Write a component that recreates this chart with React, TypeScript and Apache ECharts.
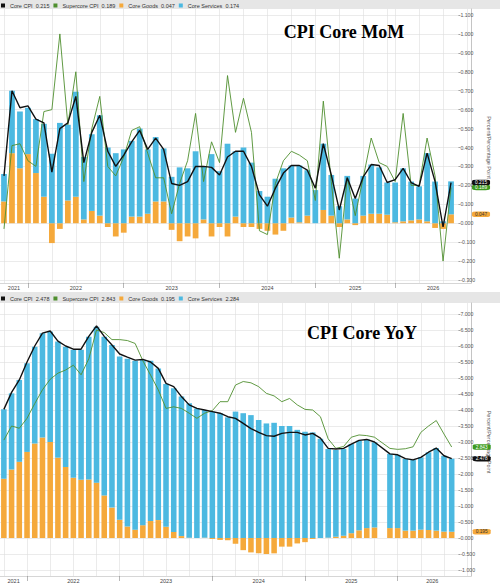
import React, { useEffect, useRef } from 'react';
import * as echarts from 'echarts';

// ---------- DATA ----------
// Monthly categories (YoY panel keeps an empty slot for the missing Oct 2025 print)
const categories = [
  'Sep 2021', 'Oct 2021', 'Nov 2021', 'Dec 2021',
  'Jan 2022', 'Feb 2022', 'Mar 2022', 'Apr 2022', 'May 2022', 'Jun 2022', 'Jul 2022', 'Aug 2022', 'Sep 2022', 'Oct 2022', 'Nov 2022', 'Dec 2022',
  'Jan 2023', 'Feb 2023', 'Mar 2023', 'Apr 2023', 'May 2023', 'Jun 2023', 'Jul 2023', 'Aug 2023', 'Sep 2023', 'Oct 2023', 'Nov 2023', 'Dec 2023',
  'Jan 2024', 'Feb 2024', 'Mar 2024', 'Apr 2024', 'May 2024', 'Jun 2024', 'Jul 2024', 'Aug 2024', 'Sep 2024', 'Oct 2024', 'Nov 2024', 'Dec 2024',
  'Jan 2025', 'Feb 2025', 'Mar 2025', 'Apr 2025', 'May 2025', 'Jun 2025', 'Jul 2025', 'Aug 2025', 'Sep 2025', 'Oct 2025', 'Nov 2025', 'Dec 2025',
  'Jan 2026', 'Feb 2026', 'Mar 2026', 'Apr 2026', 'May 2026', 'Jun 2026', 'Jul 2026', 'Aug 2026', 'Sep 2026',
];
// The MoM panel has no points at all for these months (they are skipped, not left blank)
const momMissingMonths = ['Oct 2025', 'Nov 2025'];
const momCategories = categories.filter((c) => momMissingMonths.indexOf(c) < 0);

// x-axis year labels and the month under which each one sits
const yearLabels = ['2021', '2022', '2023', '2024', '2025', '2026'];
const momYearLabelMonths = ['Oct 2021', 'Jun 2022', 'Jun 2023', 'Jun 2024', 'May 2025', 'May 2026'];
const yoyYearLabelMonths = ['Oct 2021', 'Jun 2022', 'Jun 2023', 'Jun 2024', 'Jun 2025', 'May 2026'];

// Month-over-month (%), one value per momCategories entry
const coreMoM = [
  0.25, 0.70, 0.61, 0.62, 0.55, 0.53, 0.27, 0.50, 0.53, 0.67,
  0.32, 0.48, 0.57, 0.38, 0.30, 0.36, 0.43, 0.49, 0.39, 0.45,
  0.39, 0.21, 0.20, 0.22, 0.30, 0.30, 0.295, 0.255, 0.35, 0.38,
  0.38, 0.30, 0.15, 0.09, 0.185, 0.265, 0.305, 0.305, 0.28, 0.185,
  0.42, 0.255, 0.07, 0.24, 0.13, 0.245, 0.31, 0.305, 0.215,
  0.23, 0.29, 0.215, 0.195, 0.37, 0.22, -0.02, 0.215,
];
const supercoreMoM = [
  -0.03, 0.41, 0.42, 0.33, 0.30, 0.59, 0.60, 1.00, 0.52, 0.80,
  0.22, 0.50, 0.67, 0.30, 0.25, 0.35, 0.49, 0.51, 0.37, 0.24,
  0.24, 0.05, 0.21, 0.33, 0.58, 0.22, 0.43, 0.32, 0.78, 0.48,
  0.66, 0.48, -0.04, -0.06, 0.21, 0.33, 0.38, 0.36, 0.33, 0.12,
  0.645, 0.22, -0.185, 0.24, 0.04, 0.24, 0.45, 0.32, 0.30,
  0.22, 0.58, 0.20, 0.20, 0.45, 0.25, -0.20, 0.189,
];
const goodsMoM = [
  0.115, 0.37, 0.29, 0.365, 0.265, 0.14, -0.105, -0.03, 0.12, 0.14,
  0.02, 0.065, 0.04, -0.02, -0.07, -0.05, 0.035, 0.035, 0.05, 0.115,
  0.115, -0.035, -0.095, -0.07, -0.08, 0.02, -0.07, -0.02, -0.07, 0.035,
  -0.02, -0.02, -0.03, -0.04, -0.06, -0.04, 0.03, 0.005, 0.04, 0.0,
  0.07, 0.04, -0.02, 0.02, -0.01, 0.04, 0.05, 0.05, 0.045,
  0.005, 0.01, 0.015, 0.02, 0.01, -0.025, -0.03, 0.047,
];
const servicesMoM = [
  0.145, 0.33, 0.30, 0.245, 0.285, 0.385, 0.367, 0.53, 0.40, 0.555,
  0.33, 0.405, 0.53, 0.40, 0.37, 0.39, 0.40, 0.465, 0.34, 0.34,
  0.28, 0.245, 0.295, 0.29, 0.38, 0.28, 0.365, 0.275, 0.42, 0.345,
  0.40, 0.32, 0.17, 0.14, 0.235, 0.29, 0.275, 0.30, 0.24, 0.175,
  0.35, 0.215, 0.09, 0.23, 0.13, 0.21, 0.26, 0.245, 0.17,
  0.21, 0.28, 0.205, 0.175, 0.36, 0.22, 0.01, 0.174,
];

// Year-over-year (%), one value per categories entry (null = no print)
const coreYoY = [
  4.02, 4.55, 4.94, 5.5, 6.0, 6.4, 6.47, 6.15, 6.0, 5.9,
  5.9, 6.3, 6.63, 6.3, 6.03, 5.75, 5.65, 5.56, 5.58, 5.5,
  5.3, 4.83, 4.73, 4.42, 4.16, 4.05, 4.0, 3.95, 3.9, 3.79,
  3.74, 3.58, 3.42, 3.3, 3.2, 3.18, 3.27, 3.3, 3.3, 3.22,
  3.27, 3.12, 2.8, 2.78, 2.8, 2.93, 3.05, 3.08, 3.0, null,
  2.63, 2.6, 2.48, 2.44, 2.52, 2.68, 2.81, 2.57, 2.478,
];
const supercoreYoY = [
  3.06, 3.5, 3.43, 3.74, 4.2, 4.63, 4.96, 5.15, 5.25, 5.4,
  5.1, 5.6, 6.5, 6.42, 6.2, 6.2, 6.17, 6.08, 5.54, 5.09,
  4.63, 4.05, 4.1, 4.05, 3.9, 3.74, 3.9, 3.98, 4.26, 4.26,
  4.78, 4.89, 4.85, 4.73, 4.52, 4.44, 4.26, 4.36, 4.16, 4.02,
  4.0, 3.79, 3.1, 2.8, 2.86, 3.15, 3.22, 3.2, 3.15, null,
  2.8, 2.77, 2.79, 2.85, 3.3, 3.5, 3.67, 3.25, 2.843,
];
const goodsYoY = [
  1.85, 2.14, 2.38, 2.69, 2.95, 3.14, 3.0, 2.51, 2.22, 1.88,
  1.82, 1.83, 1.73, 1.33, 0.95, 0.57, 0.36, 0.26, 0.40, 0.53,
  0.56, 0.35, 0.19, 0.06, 0.01, 0.0, 0.01, -0.03, -0.06, -0.07,
  -0.18, -0.38, -0.45, -0.48, -0.5, -0.48, -0.27, -0.27, -0.17, -0.13,
  -0.03, 0.0, 0.01, 0.04, 0.07, 0.15, 0.24, 0.31, 0.33, null,
  0.31, 0.31, 0.23, 0.23, 0.26, 0.25, 0.23, 0.2, 0.195,
];
const servicesYoY = [
  2.17, 2.38, 2.56, 2.77, 3.03, 3.26, 3.45, 3.63, 3.76, 4.0,
  4.06, 4.46, 4.87, 4.96, 5.08, 5.1, 5.24, 5.28, 5.16, 5.01,
  4.74, 4.46, 4.49, 4.36, 4.2, 4.05, 3.99, 3.95, 3.9, 3.77,
  3.95, 3.9, 3.84, 3.69, 3.58, 3.6, 3.5, 3.5, 3.38, 3.32,
  3.3, 3.1, 2.77, 2.71, 2.71, 2.79, 2.8, 2.77, 2.66, null,
  2.32, 2.29, 2.24, 2.21, 2.26, 2.43, 2.58, 2.37, 2.284,
];

// ---------- STYLE / LAYOUT ----------
const FONT = '"Liberation Sans", Arial, sans-serif';
const C_CORE = '#111111';
const C_SUPER = '#4f8f2f';
const C_SUPER_TAG = '#3d9a1e';
const C_GOODS = '#f5a93b';
const C_SERV = '#4cb9e1';
const GRID_COLOR = '#dedede';
const GRID_LEFT = 0;
const GRID_RIGHT = 29;
const TAG_DX = 30;

type Arr = (number | null)[];
type Panel = {
  title: string; titleX: number; titleY: number;
  bandY: number; bandH: number; legendTop: number;
  dataTop: number; dataBottom: number; labelTop: number; labelBottom: number;
  yMin: number; yMax: number; yInterval: number;
  cats: string[]; yearAt: string[]; yearShift: number[];
  core: Arr; sup: Arr; goods: Arr; serv: Arr;
};

const lastIndex = (arr: Arr) => {
  for (let i = arr.length - 1; i >= 0; i--) if (arr[i] != null) return i;
  return 0;
};
const fmt3 = (v: number) => (Math.abs(v) < 1e-9 ? '0.000' : v.toFixed(3));

function tag(arr: Arr, bg: string, fg: string) {
  const i = lastIndex(arr);
  const v = arr[i] as number;
  return {
    silent: true,
    symbol: 'roundRect',
    symbolSize: [18, 5.6],
    symbolOffset: [TAG_DX, 0],
    itemStyle: { color: bg },
    label: {
      show: true, position: 'inside', color: fg, fontSize: 4.8, fontFamily: FONT,
      formatter: () => fmt3(v),
    },
    data: [{ coord: [i, v] }],
  };
}

function buildPanel(p: Panel, gi: number) {
  const ppu = (p.labelBottom - p.labelTop) / (p.yMax - p.yMin);
  const dataMax = p.yMax + (p.labelTop - p.dataTop) / ppu;
  const dataMin = p.yMin - (p.dataBottom - p.labelBottom) / ppu;
  const cats = p.cats;

  const names = {
    core: `Core CPI  ${fmt3(p.core[lastIndex(p.core)] as number)}`,
    sup: `Supercore CPI  ${fmt3(p.sup[lastIndex(p.sup)] as number)}`,
    goods: `Core Goods  ${fmt3(p.goods[lastIndex(p.goods)] as number)}`,
    serv: `Core Services  ${fmt3(p.serv[lastIndex(p.serv)] as number)}`,
  };

  const grids = [
    { left: GRID_LEFT, right: GRID_RIGHT, top: p.dataTop, height: p.dataBottom - p.dataTop },
    { left: GRID_LEFT, right: GRID_RIGHT, top: p.labelTop, height: p.labelBottom - p.labelTop },
  ];

  const labelText = { fontSize: 5.5, color: '#444', fontFamily: FONT };
  const rich: Record<string, any> = {};
  p.yearShift.forEach((s, k) => {
    rich['y' + k] = { ...labelText, padding: s >= 0 ? [0, 0, 0, 2 * s] : [0, -2 * s, 0, 0] };
  });

  const xAxes = [
    {
      type: 'category', gridIndex: gi, data: cats, boundaryGap: true,
      axisLine: { show: true, onZero: false, lineStyle: { color: '#c4c4c4', width: 0.7 } },
      axisTick: {
        show: true, alignWithLabel: true, length: 5,
        interval: (i: number) => cats[i].startsWith('Dec'),
        lineStyle: { color: '#888', width: 0.6 },
      },
      axisLabel: {
        interval: 0, margin: 2, ...labelText,
        formatter: (val: string) => {
          const k = p.yearAt.indexOf(val);
          if (k < 0) return '';
          return `{y${k}|${yearLabels[k]}}`;
        },
        rich,
      },
      splitLine: {
        show: true, alignWithLabel: true,
        interval: (i: number) => /^(Mar|Jun|Sep|Dec)/.test(cats[i]),
        lineStyle: { color: GRID_COLOR, width: 0.6 },
      },
    },
    { type: 'category', gridIndex: gi + 1, data: cats, show: false },
  ];

  const yAxes = [
    {
      type: 'value', gridIndex: gi, position: 'right', min: dataMin, max: dataMax,
      axisLine: { show: true, onZero: false, lineStyle: { color: '#aaaaaa', width: 0.7 } },
      axisTick: { show: false }, axisLabel: { show: false }, splitLine: { show: false },
    },
    {
      type: 'value', gridIndex: gi + 1, position: 'right', min: p.yMin, max: p.yMax, interval: p.yInterval,
      axisLine: { show: false, onZero: false },
      axisTick: { show: true, length: 2, lineStyle: { color: '#666', width: 0.6 } },
      axisLabel: { margin: 2, fontSize: 5.2, color: '#555', fontFamily: FONT, formatter: (v: number) => fmt3(v) },
      splitLine: { show: true, lineStyle: { color: GRID_COLOR, width: 0.6 } },
      name: 'Percent/Percentage Point', nameLocation: 'middle', nameRotate: -90, nameGap: 27,
      nameTextStyle: { fontSize: 5.5, color: '#555', fontFamily: FONT },
    },
  ];

  const series = [
    {
      name: names.goods, type: 'bar', stack: 'p' + gi, xAxisIndex: gi, yAxisIndex: gi,
      data: p.goods, barWidth: '72%', itemStyle: { color: C_GOODS },
      markPoint: tag(p.goods, C_GOODS, '#333'),
    },
    {
      name: names.serv, type: 'bar', stack: 'p' + gi, xAxisIndex: gi, yAxisIndex: gi,
      data: p.serv, barWidth: '72%', itemStyle: { color: C_SERV },
    },
    {
      name: names.sup, type: 'line', xAxisIndex: gi, yAxisIndex: gi, data: p.sup,
      symbol: 'none', connectNulls: true, itemStyle: { color: C_SUPER },
      lineStyle: { color: C_SUPER, width: 0.9 },
      markPoint: tag(p.sup, C_SUPER_TAG, '#fff'),
    },
    {
      name: names.core, type: 'line', xAxisIndex: gi, yAxisIndex: gi, data: p.core,
      symbol: 'none', connectNulls: true, itemStyle: { color: C_CORE },
      lineStyle: { color: C_CORE, width: 1.4 },
      markPoint: tag(p.core, C_CORE, '#fff'),
    },
  ];

  const legend = {
    data: [names.core, names.sup, names.goods, names.serv],
    left: 1, top: p.legendTop, padding: 0, itemGap: 4, itemWidth: 4, itemHeight: 4, icon: 'rect',
    selectedMode: false,
    textStyle: { fontSize: 5.5, color: '#333', fontFamily: FONT },
  };

  const graphics = [
    { type: 'rect', z: -1, shape: { x: 0, y: p.bandY, width: 500, height: p.bandH }, style: { fill: '#e6e6e6' }, silent: true },
    {
      type: 'text', z: 10, x: p.titleX, y: p.titleY, silent: true,
      style: {
        text: p.title, fill: '#000', font: 'bold 18px "Liberation Serif", "Times New Roman", serif',
        textAlign: 'center', textVerticalAlign: 'middle',
        shadowColor: 'rgba(0,0,0,0.6)', shadowBlur: 3, shadowOffsetX: 2, shadowOffsetY: 2,
      },
    },
  ];

  return { grids, xAxes, yAxes, series, legend, graphics };
}

const topPanel: Panel = {
  title: 'CPI Core MoM', titleX: 344, titleY: 32,
  bandY: 0, bandH: 9, legendTop: 2.5,
  dataTop: 9, dataBottom: 283, labelTop: 15, labelBottom: 280,
  yMin: -0.3, yMax: 1.1, yInterval: 0.1,
  cats: momCategories, yearAt: momYearLabelMonths, yearShift: [2, 0, 0, 0, 0, -2],
  core: coreMoM, sup: supercoreMoM, goods: goodsMoM, serv: servicesMoM,
};
const bottomPanel: Panel = {
  title: 'CPI Core YoY', titleX: 362, titleY: 333,
  bandY: 292, bandH: 11, legendTop: 295.5,
  dataTop: 303, dataBottom: 576, labelTop: 314, labelBottom: 570,
  yMin: -1, yMax: 7, yInterval: 0.5,
  cats: categories, yearAt: yoyYearLabelMonths, yearShift: [2, 0, 0, 0, 0, -4],
  core: coreYoY, sup: supercoreYoY, goods: goodsYoY, serv: servicesYoY,
};

export default function App() {
  const ref = useRef<HTMLDivElement>(null);
  useEffect(() => {
    if (!ref.current) return;
    const chart = echarts.init(ref.current, undefined, { renderer: 'svg' });
    const a = buildPanel(topPanel, 0);
    const b = buildPanel(bottomPanel, 2);
    chart.setOption({
      animation: false,
      backgroundColor: '#ffffff',
      textStyle: { fontFamily: FONT },
      grid: [...a.grids, ...b.grids],
      xAxis: [...a.xAxes, ...b.xAxes],
      yAxis: [...a.yAxes, ...b.yAxes],
      series: [...a.series, ...b.series],
      legend: [a.legend, b.legend],
      graphic: [...a.graphics, ...b.graphics],
    });
    return () => chart.dispose();
  }, []);
  return (
    <div
      ref={ref}
      style={{ position: 'fixed', left: 0, top: 0, width: 500, height: 584, background: '#fff' }}
    />
  );
}
